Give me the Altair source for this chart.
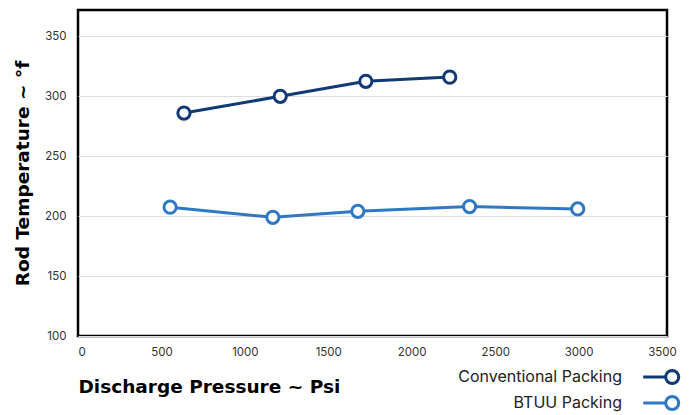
import altair as alt
import pandas as pd

conv_x = [635, 1212, 1725, 2228]
conv_y = [286, 300, 312.5, 316]
btuu_x = [552, 1168, 1677, 2347, 2995]
btuu_y = [207.5, 199, 204, 208, 206]

series = ["Conventional Packing", "BTUU Packing"]
colors = ["#0f3a75", "#2f78c3"]

df = pd.DataFrame(
    [{"s": series[0], "x": a, "y": b, "o": i} for i, (a, b) in enumerate(zip(conv_x, conv_y))]
    + [{"s": series[1], "x": a, "y": b, "o": i} for i, (a, b) in enumerate(zip(btuu_x, btuu_y))]
)

FONT = "Inter"
TFONT = "DejaVu Sans"

xenc = alt.X("x:Q", scale=alt.Scale(domain=[0, 3530], nice=False, zero=False),
             axis=alt.Axis(values=[0, 500, 1000, 1500, 2000, 2500, 3000, 3500], format="d",
                           title="Discharge Pressure ~ Psi", titleAnchor="start",
                           titleAlign="left", titleX=0, titlePadding=20,
                           grid=False, domain=False, ticks=False, labelPadding=10))
yenc = alt.Y("y:Q", scale=alt.Scale(domain=[100, 372], nice=False, zero=False),
             axis=alt.Axis(values=[100, 150, 200, 250, 300, 350],
                           title="Rod Temperature ~ °f", titlePadding=12,
                           grid=True, domain=False, ticks=False, labelPadding=12))

# legend glyph: short line + open circle (16-gon), placed right of the label
glyph = ("M4.17,0L7.27,0"
         "M9.07,0L9.00,0.34L8.81,0.64L8.51,0.83L8.17,0.9L7.83,0.83L7.53,0.64L7.34,0.34"
         "L7.27,0L7.34,-0.34L7.53,-0.64L7.83,-0.83L8.17,-0.9L8.51,-0.83L8.81,-0.64L9.00,-0.34Z")

leg = alt.Legend(
    title=None, orient="none", legendX=526, legendY=358,
    symbolType=glyph,
    symbolSize=210, symbolStrokeWidth=3, symbolFillColor="white",
    labelAlign="right", labelOffset=0, labelFontSize=16, labelLimit=400,
    labelFont=FONT, labelColor="#222", rowPadding=0)

cscale = alt.Scale(domain=series, range=colors)

line = alt.Chart(df).mark_line(strokeWidth=3).encode(
    x=xenc, y=yenc, order="o:Q",
    color=alt.Color("s:N", scale=cscale, legend=leg)
)
pts = alt.Chart(df).mark_point(filled=False, fill="white", fillOpacity=1, size=150, strokeWidth=3, opacity=1).encode(
    x=xenc, y=yenc,
    color=alt.Color("s:N", scale=cscale, legend=leg),
)

chart = (line + pts).properties(
    width=589, height=326,
    autosize=alt.AutoSizeParams(type="none"),
    padding={"left": 70, "top": 2, "right": 17, "bottom": 79},
).configure_view(stroke="black", strokeWidth=2.5).configure_axis(
    labelFont=FONT, labelFontSize=11.5, labelColor="#333",
    titleFont=TFONT, titleFontSize=18.5, titleFontWeight="bold", titleColor="black",
    gridColor="#dddddd", gridWidth=1,
)

chart.save("out.html", embed_options={"renderer": "svg", "actions": False})
